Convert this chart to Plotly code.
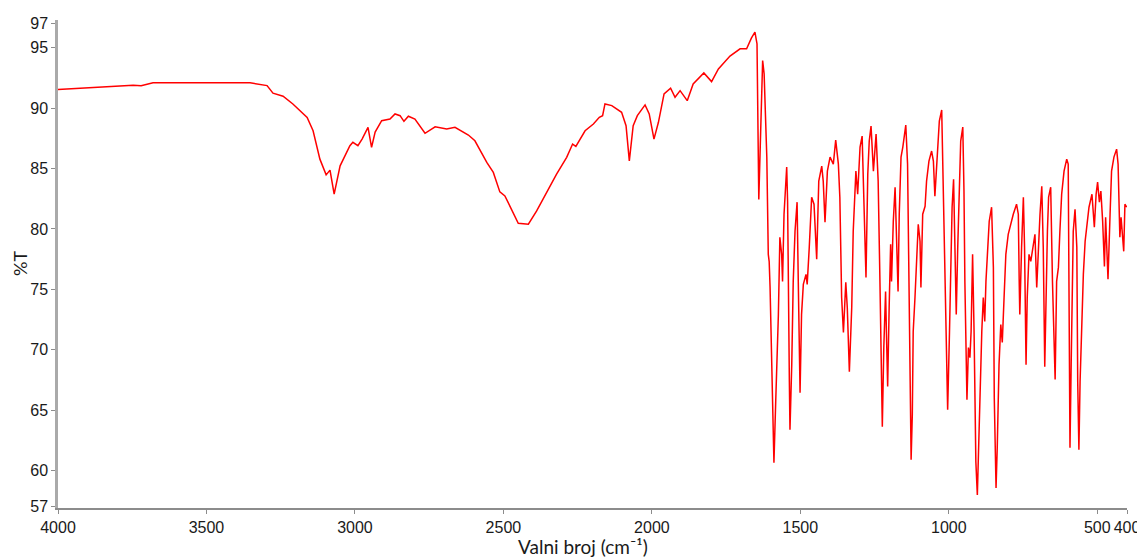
import plotly.graph_objects as go

# IR spectrum: wavenumber (cm^-1) and transmittance (%T)
wn_high = [4000, 3900, 3747, 3720, 3680, 3353, 3296, 3276, 3242, 3209, 3161, 3141, 3118, 3097, 3084, 3070,
           3050, 3017, 3007, 2990, 2976, 2956, 2944, 2932, 2910, 2882, 2865, 2848, 2835, 2820,
           2798, 2764, 2730, 2691, 2663, 2618, 2596, 2556, 2534, 2512, 2495, 2450, 2416, 2388,
           2354, 2321, 2287, 2267, 2256, 2225, 2197, 2177, 2166, 2158, 2135, 2102, 2087, 2076,
           2063, 2049, 2023, 2009, 1993, 1978, 1959, 1937, 1922, 1905, 1881, 1861, 1825, 1799,
           1776, 1737, 1703, 1681, 1665, 1653]
t_high = [91.55, 91.7, 91.9, 91.85, 92.1, 92.1, 91.87, 91.24, 90.99, 90.35, 89.24, 88.13, 85.78, 84.48, 84.87, 82.88,
          85.23, 86.89, 87.17, 86.89, 87.44, 88.41, 86.75, 88.02, 88.96, 89.1, 89.52, 89.38, 88.91, 89.33,
          89.1, 87.92, 88.46, 88.27, 88.41, 87.78, 87.3, 85.51, 84.68, 83.07, 82.74, 80.47, 80.39, 81.49,
          83.02, 84.54, 85.93, 87.03, 86.84, 88.13, 88.69, 89.24, 89.38, 90.35, 90.21, 89.66, 88.55, 85.64,
          88.55, 89.38, 90.27, 89.52, 87.44, 88.83, 91.18, 91.65, 90.9, 91.45, 90.62, 92.01, 92.92, 92.2,
          93.25, 94.31, 94.91, 94.91, 95.8, 96.3]

wn_fp = [1646, 1640, 1633, 1627, 1622, 1613, 1608, 1605, 1602, 1597, 1592, 1589, 1583, 1574, 1569,
         1563, 1560, 1555, 1546, 1543, 1537, 1535, 1529, 1524, 1518, 1511, 1507, 1501, 1496, 1490,
         1481, 1477, 1470, 1462, 1454, 1445, 1438, 1428, 1423, 1417, 1409, 1400, 1389, 1381, 1372,
         1367, 1361, 1355, 1347, 1342, 1335, 1327, 1322, 1313, 1307, 1299, 1292, 1286, 1279, 1273,
         1268, 1262, 1254, 1245, 1238, 1232, 1226, 1224, 1219, 1213, 1210, 1206, 1201, 1196, 1193,
         1187, 1181, 1176, 1171, 1167, 1161, 1155, 1151, 1145, 1139, 1134, 1131, 1127, 1123, 1120,
         1114, 1108, 1103, 1097, 1094, 1088, 1080, 1075, 1067, 1058, 1052, 1047, 1039, 1032, 1024,
         1019, 1013, 1007, 1004, 998, 994, 989, 984, 979, 975, 970, 965, 960, 953, 949, 946, 942,
         939, 934, 929, 925, 920, 915, 912, 909, 904, 900, 895, 889, 884, 879, 875, 869, 864, 856,
         850, 847, 841, 837, 831, 825, 820, 814, 808, 800, 792, 783, 772, 766, 763, 761, 755, 749,
         745, 740, 736, 730, 724, 718, 710, 704, 699, 693, 687, 682, 677, 673, 668, 664, 657, 651,
         646, 642, 637, 631, 626, 620, 612, 603, 598, 596, 592, 588, 581, 575, 569, 566, 562, 558,
         552, 547, 541, 535, 528, 518, 510, 504, 499, 493, 488, 482, 476, 472, 468, 464, 457, 452,
         444, 435, 430, 424, 420, 416, 411, 407, 401]
t_fp = [95.33, 82.45, 88.7, 93.94, 92.84, 85.95, 77.9, 77.3, 75.15, 70.18, 63.54, 60.64, 65.7, 72.92, 79.31,
        77.9, 75.66, 81.22, 85.12, 82.3, 67.36, 63.38, 68.77, 75.66, 79.81, 82.22, 75.66, 66.45, 72.92, 75.41,
        76.24, 75.41, 78.48, 82.63, 82.05, 77.49, 83.96, 85.2, 83.96, 80.56, 84.79, 85.95, 85.37, 87.36, 85.37,
        82.63, 74.33, 71.43, 75.58, 73.5, 68.19, 73.5, 79.81, 84.79, 82.88, 86.78, 87.69, 81.22, 75.99, 84.54,
        87.28, 88.52, 84.79, 87.86, 83.96, 75.66, 65.7, 63.63, 70.18, 74.83, 71.26, 66.95, 73.5, 78.73, 75.66,
        80.64, 83.46, 78.48, 74.83, 81.22, 85.95, 86.78, 87.61, 88.6, 85.37, 75.15, 66.04, 60.89, 64.63, 71.51,
        74.33, 77.9, 80.39, 78.98, 75.15, 81.22, 81.88, 83.96, 85.62, 86.45, 85.62, 82.72, 86.2, 88.94, 89.85,
        84.29, 75.66, 68.19, 65.04, 71.26, 77.07, 81.8, 84.12, 78.48, 72.92, 78.48, 83.96, 87.28, 88.44, 83.13, 75.66, 70.18,
        65.87, 70.18, 69.35, 71.51, 77.9, 71.51, 64.63, 60.72, 57.98, 61.88, 66.04, 71.51, 74.33, 72.34, 75.66, 78.48, 80.64, 81.8,
        76.82, 66.04, 58.56, 61.88, 68.77, 72.09, 70.6, 74.33, 77.9, 79.56, 80.39, 81.22, 82.05, 81.22, 75.66, 72.92, 78.48, 82.63,
        78.48, 68.77, 74.33, 77.9, 77.32, 78.48, 79.56, 75.15, 78.48, 81.22, 83.54, 78.48, 68.6, 74.33, 79.81, 82.63, 83.46, 75.66,
        71.51, 67.53, 75.66, 76.82, 79.81, 82.88, 84.79, 85.78, 85.37, 77.9, 61.88, 68.77, 79.81, 81.63, 78.48, 67.36, 61.72, 67.36,
        72.92, 76.24, 78.98, 80.39, 81.8, 82.88, 80.14, 82.88, 83.88, 82.22, 83.13, 80.64, 76.9, 80.97, 78.98, 75.83, 81.22, 84.79,
        85.95, 86.61, 85.37, 79.31, 80.97, 79.81, 78.15, 82.05, 81.8]

x_ticks = [4000, 3500, 3000, 2500, 2000, 1500, 1000, 500, 400]
y_ticks = [57, 60, 65, 70, 75, 80, 85, 90, 95, 97]

wavenumber = wn_high + wn_fp
transmittance = t_high + t_fp

fig = go.Figure()
fig.add_trace(go.Scatter(x=wavenumber, y=transmittance, mode="lines",
                         line=dict(color="#ff0000", width=1.5), showlegend=False))

# the page body adds an 8 px offset, so the figure is sized/margined to compensate
fig.update_layout(
    width=1137, height=551,
    margin=dict(l=50, r=18, t=12, b=51),
    paper_bgcolor="white", plot_bgcolor="white",
    font=dict(family="Liberation Sans, Arial, sans-serif", size=16, color="#1a1a1a"),
    annotations=[
        dict(text="Valni broj (cm⁻¹)", xref="paper", yref="paper", x=0.4907, y=0,
             xanchor="center", yanchor="middle", yshift=-38, showarrow=False,
             font=dict(family="Lato, Open Sans, sans-serif", size=19, color="#1a1a1a")),
        dict(text="%T", xref="paper", yref="paper", x=0, y=0.5, textangle=-90,
             xanchor="center", yanchor="middle", xshift=-38, showarrow=False,
             font=dict(family="Lato, Open Sans, sans-serif", size=18, color="#1a1a1a")),
    ],
)
fig.update_xaxes(
    range=[4000, 400], tickvals=x_ticks, ticktext=[str(v) for v in x_ticks],
    showgrid=False, zeroline=False, showline=True, linecolor="#8c8c8c", linewidth=1.5,
    ticks="outside", ticklen=4, tickcolor="#8c8c8c", tickfont=dict(size=16),
    tickangle=0, automargin=False, ticklabeloverflow="allow",
)
fig.update_yaxes(
    range=[56.9, 97.3], tickvals=y_ticks, ticktext=[str(v) for v in y_ticks],
    showgrid=False, zeroline=False, showline=True, linecolor="#aaaaaa", linewidth=2.5,
    ticks="outside", ticklen=4, tickcolor="#8c8c8c", tickfont=dict(size=16),
    automargin=False, ticklabeloverflow="allow",
)

fig.write_html("out.html")
